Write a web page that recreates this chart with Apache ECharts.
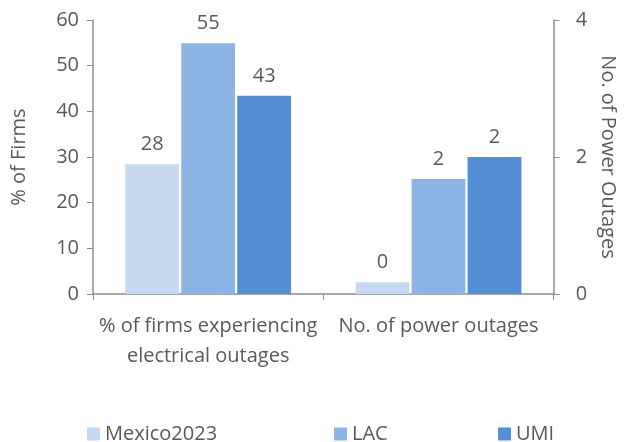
<!DOCTYPE html>
<html>
<head>
<meta charset="utf-8">
<script src="https://cdn.jsdelivr.net/npm/echarts@6/dist/echarts.min.js"></script>
<style>
  html, body { margin: 0; padding: 0; background: #fff; }
  #chart { width: 626px; height: 442px; }
</style>
</head>
<body>
<div id="chart"></div>
<script>
// categories
var categories = ['% of firms experiencing\nelectrical outages', 'No. of power outages']
var seriesNames = ['Mexico2023', 'LAC', 'UMI']
// % of firms (left axis)
var pctFirms = [28.4, 54.9, 43.4]
// no. of power outages (right axis)
var outages = [0.17, 1.68, 2.0]
var leftTicks = [0, 60, 10]   // min, max, interval
var rightTicks = [0, 4, 2]

var colors = ['#C6D9F1', '#8DB4E2', '#558ED5']
var textColor = '#595959'
var axisColor = '#8c8c8c'
var font = 'Open Sans'
var fs = 20

const chart = echarts.init(document.getElementById('chart'))

let series = []
seriesNames.forEach((name, i) => {
    // left group on xAxis 0 / yAxis 0
    series.push({
        name: name,
        type: 'bar',
        xAxisIndex: 0,
        yAxisIndex: 0,
        data: [pctFirms[i], '-'],
        itemStyle: { color: colors[i] },
        barGap: '4%',
        barCategoryGap: '28%',
        label: {
            show: true, position: 'top', distance: 10,
            color: textColor, fontSize: fs, fontFamily: font,
            formatter: p => Math.round(p.value)
        }
    })
    // right group on xAxis 1 / yAxis 1
    series.push({
        name: name,
        type: 'bar',
        xAxisIndex: 1,
        yAxisIndex: 1,
        data: ['-', outages[i]],
        itemStyle: { color: colors[i] },
        barGap: '4%',
        barCategoryGap: '28%',
        label: {
            show: true, position: 'top', distance: 10,
            color: textColor, fontSize: fs, fontFamily: font,
            formatter: p => Math.round(p.value)
        }
    })
})

function legendAt(name, left) {
    return {
        data: [name],
        left: left,
        top: 419,
        itemWidth: 13,
        itemHeight: 13,
        itemGap: 6,
        icon: 'rect',
        textStyle: { color: textColor, fontSize: fs, fontFamily: font }
    }
}

const option = {
    animation: false,
    grid: { left: 93, right: 69, top: 20, bottom: 148 },
    legend: [
        legendAt('Mexico2023', 82),
        legendAt('LAC', 329),
        legendAt('UMI', 493)
    ],
    xAxis: [{
        type: 'category',
        data: categories,
        axisLine: { lineStyle: { color: axisColor, width: 1.5 } },
        axisTick: { show: true, length: 6, lineStyle: { color: axisColor } },
        axisLabel: {
            interval: 0,
            color: textColor, fontSize: fs, fontFamily: font,
            lineHeight: 30, margin: 17
        }
    }, {
        type: 'category',
        data: categories,
        position: 'bottom',
        show: false
    }],
    yAxis: [{
        type: 'value',
        min: leftTicks[0], max: leftTicks[1], interval: leftTicks[2],
        name: '% of Firms',
        nameLocation: 'middle',
        nameGap: 64,
        nameRotate: 90,
        nameTextStyle: { color: textColor, fontSize: fs, fontFamily: font },
        axisLine: { show: true, lineStyle: { color: axisColor, width: 1.5 } },
        axisTick: { show: true, length: 6, lineStyle: { color: axisColor } },
        splitLine: { show: false },
        axisLabel: { color: textColor, fontSize: fs, fontFamily: font, margin: 14 }
    }, {
        type: 'value',
        position: 'right',
        min: rightTicks[0], max: rightTicks[1], interval: rightTicks[2],
        name: 'No. of Power Outages',
        nameLocation: 'middle',
        nameGap: 43,
        nameRotate: -90,
        nameTextStyle: { color: textColor, fontSize: fs, fontFamily: font },
        axisLine: { show: true, lineStyle: { color: axisColor, width: 1.5 } },
        axisTick: { show: true, length: 6, lineStyle: { color: axisColor } },
        splitLine: { show: false },
        axisLabel: { color: textColor, fontSize: fs, fontFamily: font, margin: 22 }
    }],
    series: series
}
chart.setOption(option)
</script>
</body>
</html>
